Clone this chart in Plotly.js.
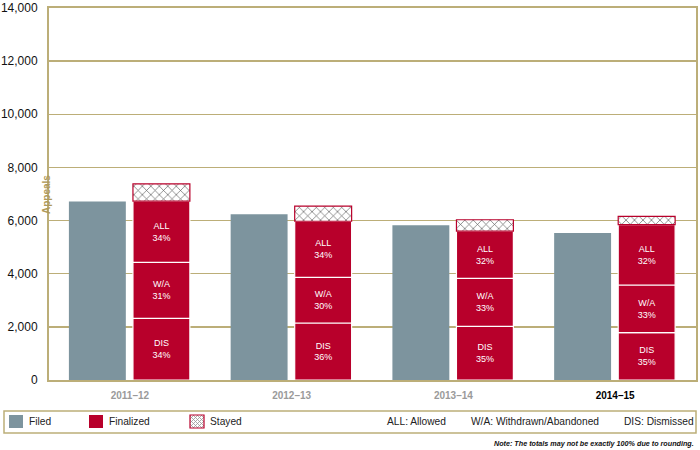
<!DOCTYPE html>
<html><head><meta charset="utf-8">
<script src="https://cdn.plot.ly/plotly-3.0.1.min.js"></script>
<style>body{margin:0;background:#fff}#chart{width:700px;height:450px}</style>
</head><body><div id="chart"></div>
<script>
// ---- data ----
const years = ["2011–12", "2012–13", "2013–14", "2014–15"];
const filed = [6720, 6235, 5820, 5530];
const dismissed = [2320, 2145, 2020, 1780];
const withdrawn = [2110, 1720, 1805, 1795];
const allowed = [2300, 2110, 1780, 2270];
const stayed = [650, 565, 425, 315];
const pctDIS = ["34%", "36%", "35%", "35%"];
const pctWA = ["31%", "30%", "33%", "33%"];
const pctALL = ["34%", "34%", "32%", "32%"];
const yTicks = [0, 2000, 4000, 6000, 8000, 10000, 12000, 14000];

// ---- styles ----
const GOLD = "#bcae78", GRAY = "#7d949e", RED = "#b8002b";
const W = 700, H = 450, ML = 49, MR = 4, MT = 8, MB = 70;
const PW = W - ML - MR, PH = H - MT - MB;
const px = x => (x - ML) / PW;
const py = y => (H - MB - y) / PH;

const base2 = dismissed.map((d, i) => d);
const base3 = dismissed.map((d, i) => d + withdrawn[i]);
const base4 = dismissed.map((d, i) => d + withdrawn[i] + allowed[i]);

const BW = 0.352, OFF_F = -0.377, OFF_S = 0.019;
const segText = {size: 9, color: "white", family: "Liberation Sans Narrow, Arial Narrow, Arial"};
const segCommon = {
  type: "bar", x: years, width: BW, offset: OFF_S, showlegend: false,
  marker: {color: RED, line: {color: "white", width: 1.2}},
  textposition: "inside", insidetextanchor: "middle", textfont: segText,
  constraintext: "none", hoverinfo: "skip"
};

const traces = [
  {type: "bar", x: years, y: filed, width: BW, offset: OFF_F, showlegend: false,
   marker: {color: GRAY, line: {width: 0}}, hoverinfo: "skip"},
  Object.assign({}, segCommon, {y: dismissed, base: 0, text: pctDIS.map(p => "DIS<br>" + p)}),
  Object.assign({}, segCommon, {y: withdrawn, base: base2, text: pctWA.map(p => "W/A<br>" + p)}),
  Object.assign({}, segCommon, {y: allowed, base: base3, text: pctALL.map(p => "ALL<br>" + p)}),
  {type: "bar", x: years, y: stayed, base: base4, width: BW, offset: OFF_S, showlegend: false,
   marker: {color: "white", line: {color: RED, width: 1.2},
            pattern: {shape: "x", fgcolor: "#555", bgcolor: "white", size: 6, solidity: 0.2}},
   hoverinfo: "skip"}
];

// legend (drawn manually)
const shapes = [
  {type: "rect", xref: "paper", yref: "paper", x0: px(4), x1: px(696), y0: py(411), y1: py(433),
   line: {color: GOLD, width: 1.5}, fillcolor: "white"},
  {type: "rect", xref: "paper", yref: "paper", x0: px(9), x1: px(23), y0: py(415), y1: py(428),
   line: {width: 0}, fillcolor: GRAY},
  {type: "rect", xref: "paper", yref: "paper", x0: px(89), x1: px(103), y0: py(415), y1: py(428),
   line: {width: 0}, fillcolor: RED},
];
// cross-hatch swatch
(function () {
  const x0 = 190, y0 = 415, w = 14, h = 13;
  let p = "";
  for (let d = -h; d <= w; d += 4) {
    let a = [Math.max(0, d), Math.max(0, d) - d];
    let b = [Math.min(w, h + d), Math.min(w, h + d) - d];
    if (b[0] > a[0]) p += `M${px(x0 + a[0])},${py(y0 + a[1])}L${px(x0 + b[0])},${py(y0 + b[1])}`;
    const s = d + h;
    let c = [Math.max(0, s - h), s - Math.max(0, s - h)];
    let e = [Math.min(w, s), s - Math.min(w, s)];
    if (e[0] > c[0]) p += `M${px(x0 + c[0])},${py(y0 + c[1])}L${px(x0 + e[0])},${py(y0 + e[1])}`;
  }
  shapes.push({type: "path", xref: "paper", yref: "paper", path: p, line: {color: "#999", width: 0.8}});
  shapes.push({type: "rect", xref: "paper", yref: "paper", x0: px(x0), x1: px(x0 + w), y0: py(y0), y1: py(y0 + h),
    line: {color: RED, width: 1.2}});
})();

const lf = {size: 10.2, color: "#222", family: "Arial, Liberation Sans, sans-serif"};
const ann = (t, x) => ({xref: "paper", yref: "paper", x: px(x), y: py(422), text: t, showarrow: false,
  xanchor: "left", yanchor: "middle", font: lf});
const annotations = [
  ann("Filed", 27), ann("Finalized", 107), ann("Stayed", 208),
  ann("ALL: Allowed", 385), ann("W/A: Withdrawn/Abandoned", 469), ann("DIS: Dismissed", 622),
  {xref: "paper", yref: "paper", x: px(696), y: py(443), text: "<i>Note: The totals may not be exactly 100% due to rounding.</i>",
   showarrow: false, xanchor: "right", yanchor: "middle",
   font: {size: 7.2, color: "#111", family: "Arial, Liberation Sans", weight: "bold"}},
  {xref: "paper", yref: "paper", x: px(46), y: py(195), text: "Appeals", textangle: -90, showarrow: false,
   xanchor: "center", yanchor: "middle", font: {size: 10, color: "#b09a5a", family: "Arial", weight: "bold"}}
];

const layout = {
  width: W, height: H, margin: {l: ML, r: MR, t: MT, b: MB},
  paper_bgcolor: "white", plot_bgcolor: "white", barmode: "overlay", showlegend: false,
  xaxis: {type: "category", tickvals: years,
    ticktext: years.map((y, i) => i === years.length - 1 ? `<span style="color:#000">${y}</span>` : y),
    tickfont: {size: 10, color: "#9a9a9a", family: "Arial", weight: "bold"},
    ticks: "outside", ticklen: 5, tickcolor: "rgba(0,0,0,0)",
    showline: true, linecolor: GOLD, linewidth: 2, mirror: true, showgrid: false, fixedrange: true},
  yaxis: {range: [0, 14000], tickvals: yTicks, tickformat: ",d",
    tickfont: {size: 12, color: "#111", family: "Arial, Liberation Sans"},
    ticks: "outside", ticklen: 7, tickcolor: "rgba(0,0,0,0)",
    showgrid: true, gridcolor: GOLD, gridwidth: 1.5, zeroline: false,
    showline: true, linecolor: GOLD, linewidth: 2, mirror: true, fixedrange: true},
  shapes: shapes, annotations: annotations
};
Plotly.newPlot("chart", traces, layout, {staticPlot: true});
</script></body></html>
